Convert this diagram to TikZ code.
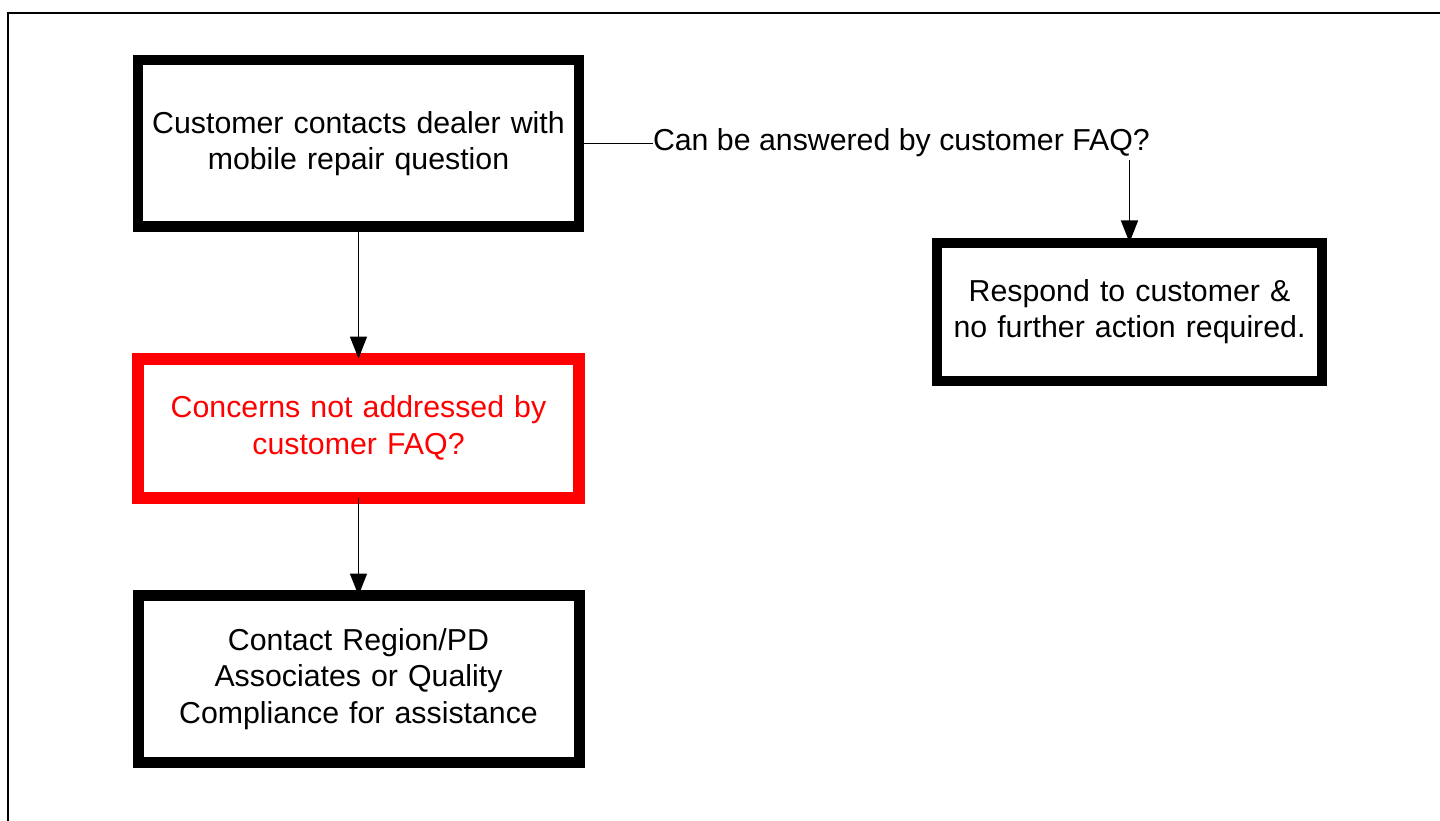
\documentclass[tikz,border=0pt]{standalone}
\usepackage{fontspec}
\setmainfont{Liberation Sans}
\usetikzlibrary{arrows.meta}
\begin{document}
\begin{tikzpicture}[x=1pt,y=-1pt,
  box/.style={draw=black,line width=10pt,rectangle,outer sep=0pt,inner sep=0pt,
    align=center,text width=420pt,font=\fontsize{30.3}{36.5}\selectfont},
  conn/.style={line width=1.5pt},
  arr/.style={conn,-{Triangle[width=17pt,length=22pt]}},
  lbl/.style={inner sep=0pt,outer sep=0pt,font=\fontsize{30.3}{36.5}\selectfont}]
\useasboundingbox (0,0) rectangle (1440,821);
% frame
\draw[line width=2pt] (8,830) -- (8,13) -- (1450,13);
% boxes
\node[box,minimum width=441pt,minimum height=166pt] (b1) at (358.5,143.5)
  {Customer contacts dealer with\\mobile repair question};
\node[box,draw=red,text=red,line width=12pt,minimum width=441pt,minimum height=139pt] (b2) at (358.5,428)
  {Concerns not addressed by\\customer FAQ?};
\node[box,line width=11pt,minimum width=441pt,minimum height=167pt] (b3) at (358.5,679)
  {Contact Region/PD\\Associates or Quality\\Compliance for assistance};
\node[box,text width=370pt,minimum width=385pt,minimum height=138pt] (b4) at (1129.5,311.5)
  {Respond to customer \&\\no further action required.};
\node[lbl,anchor=west] (q) at (653,143) {Can be answered by customer FAQ?};
\coordinate (qs) at (1129.5,160);
% connectors
\draw[conn] (b1.east) -- (b1.east -| q.west);
\draw[arr] (qs) -- (b4.north);
\draw[arr] (b1.south) -- (b2.north);
\draw[arr] (b2.south) -- (b3.north);
\end{tikzpicture}
\end{document}
